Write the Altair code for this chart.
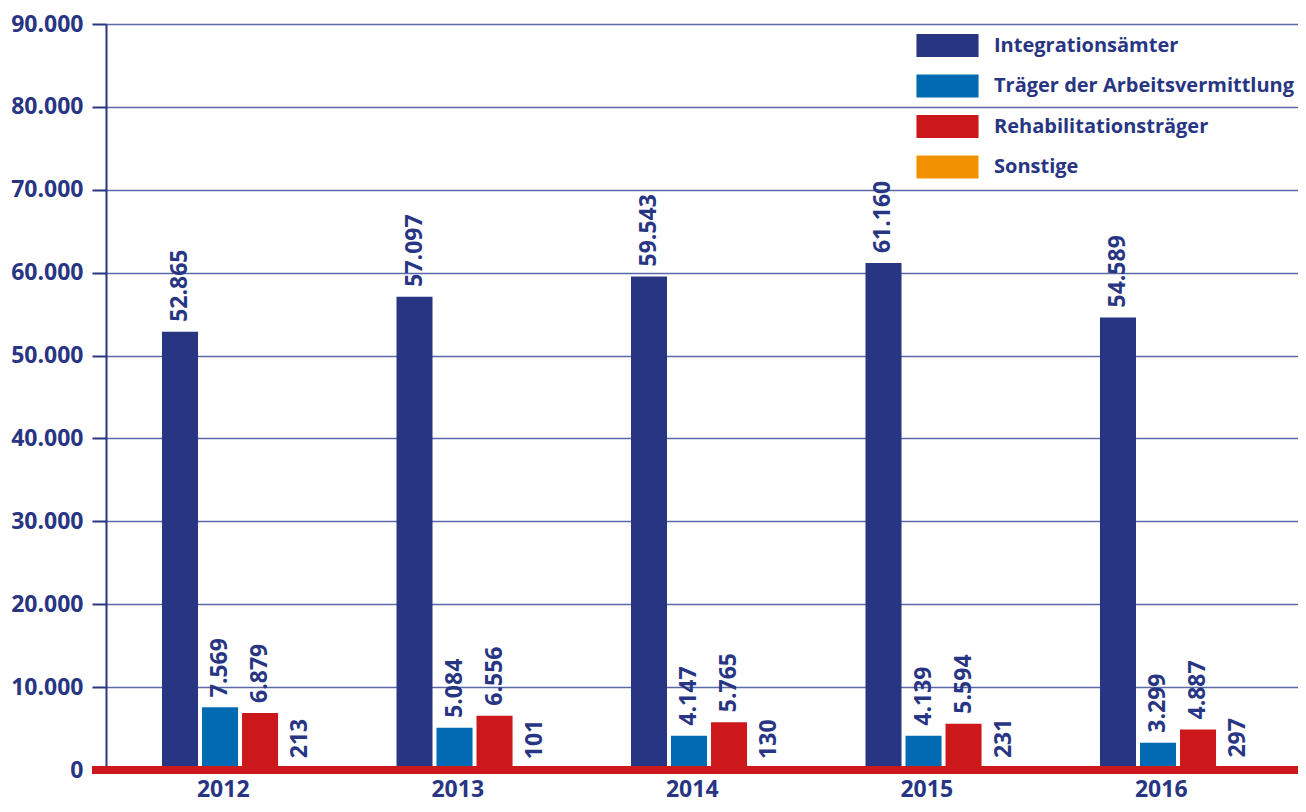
import altair as alt
import pandas as pd

years = ["2012", "2013", "2014", "2015", "2016"]
series = ["Integrationsämter", "Träger der Arbeitsvermittlung", "Rehabilitationsträger", "Sonstige"]
integrationsaemter = [52865, 57097, 59543, 61160, 54589]
traeger_av = [7569, 5084, 4147, 4139, 3299]
reha = [6879, 6556, 5765, 5594, 4887]
sonstige = [213, 101, 130, 231, 297]
colors = ["#273582", "#006ab3", "#cc171b", "#f39200"]
y_ticks = [0, 10000, 20000, 30000, 40000, 50000, 60000, 70000, 80000, 90000]

NAVY = "#283583"
FONT = "Open Sans"

rows = []
for s, vals in zip(series, [integrationsaemter, traeger_av, reha, sonstige]):
    for y, v in zip(years, vals):
        rows.append({"year": y, "series": s, "value": v,
                     "label": f"{v:,}".replace(",", ".")})
df = pd.DataFrame(rows)

W, H = 1192, 746

x_enc = alt.X("year:N", title=None,
              scale=alt.Scale(paddingInner=0, paddingOuter=0.0416, align=0),
              axis=alt.Axis(labelAngle=0, ticks=False, domain=False, labelPadding=8,
                            labelFont=FONT, labelFontSize=23, labelFontWeight="bold",
                            labelColor=NAVY))
xoff = alt.XOffset("series:N",
                   scale=alt.Scale(domain=["_"] + series, paddingInner=0.1,
                                   paddingOuter=0.48, align=0.416))
y_enc = alt.Y("value:Q", title=None,
              scale=alt.Scale(domain=[0, 90000], nice=False),
              axis=alt.Axis(values=y_ticks,
                            labelExpr="replace(format(datum.value, ','), ',', '.')",
                            labelFont=FONT, labelFontSize=23, labelFontWeight="bold",
                            labelColor=NAVY, labelPadding=9,
                            tickSize=14, tickWidth=2, tickColor=NAVY,
                            domainColor=NAVY, domainWidth=2,
                            grid=True, gridColor="#5a68a6", gridWidth=1.5))

base = alt.Chart(df)

bars = base.mark_bar(opacity=1).encode(
    x=x_enc,
    xOffset=xoff,
    y=y_enc,
    color=alt.Color("series:N",
                    scale=alt.Scale(domain=series, range=colors),
                    legend=alt.Legend(title=None, orient="none", legendX=830, legendY=10,
                                      symbolType="M-2.7,-1H2.7V1H-2.7Z", symbolSize=529,
                                      symbolStrokeWidth=0, symbolOpacity=1,
                                      labelOffset=35, rowPadding=17.5, padding=0,
                                      labelFont=FONT, labelFontSize=20,
                                      labelFontWeight="bold", labelColor=NAVY,
                                      labelLimit=400)),
)

labels = base.mark_text(angle=270, align="left", baseline="middle", dx=10,
                        font=FONT, fontSize=23, fontWeight="bold", color=NAVY).encode(
    x=x_enc,
    xOffset=xoff,
    y=y_enc,
    text="label:N",
)

baseline = alt.Chart(pd.DataFrame({"v": [0]})).mark_rule(color="#cc171b", strokeWidth=8).encode(
    y=alt.Y("v:Q"),
    x=alt.value(-14),
    x2=alt.value(W),
)

chart = alt.layer(bars, labels, baseline).properties(
    width=W, height=H,
    autosize=alt.AutoSizeParams(type="none"),
    padding={"left": 98, "top": 16, "right": 0, "bottom": 34},
).configure_view(stroke=None)

chart.save("out.html", embed_options={"renderer": "svg", "actions": False})
